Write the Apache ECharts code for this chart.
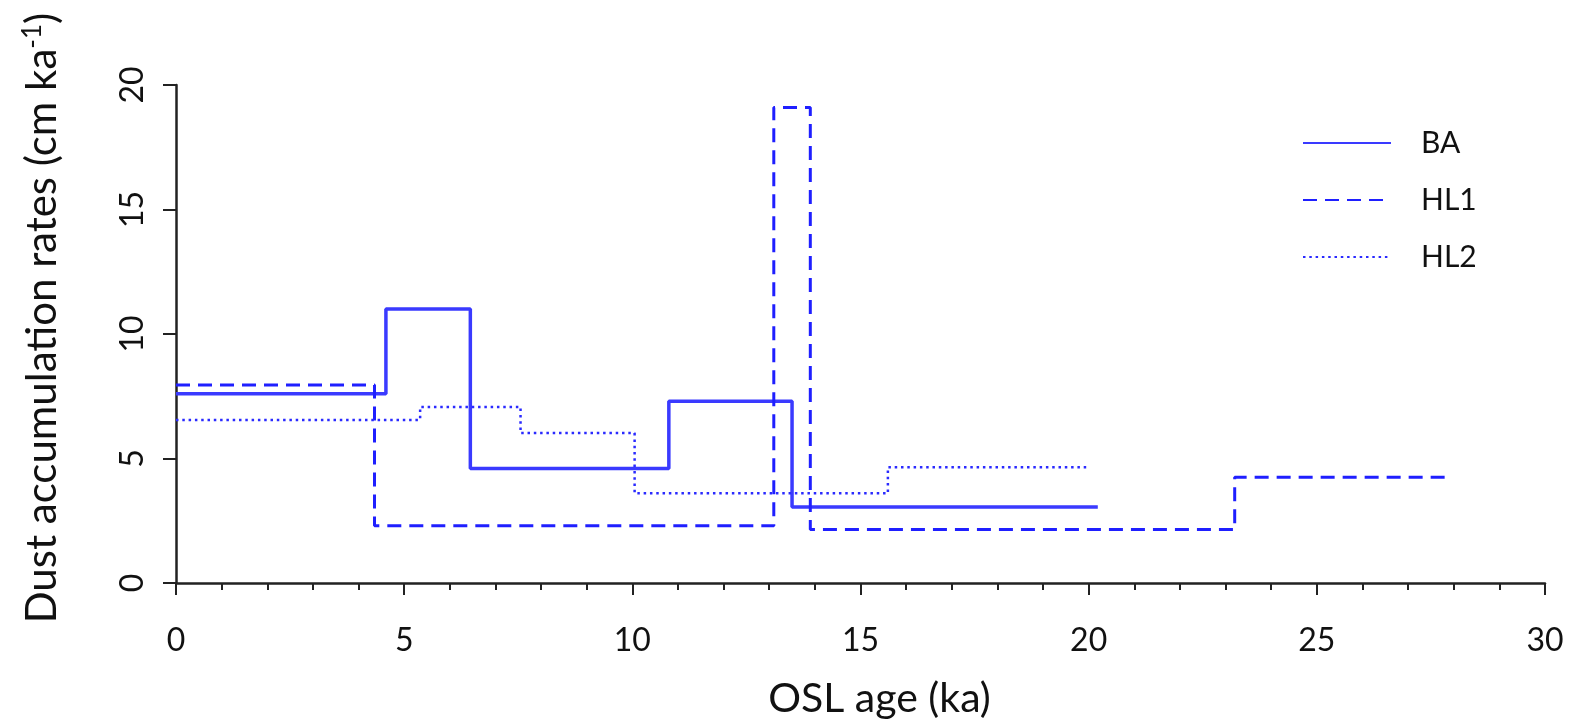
<!DOCTYPE html>
<html>
<head>
<meta charset="utf-8">
<script src="https://cdn.jsdelivr.net/npm/echarts@6/dist/echarts.min.js"></script>
<style>
html,body{margin:0;padding:0;background:#fff;}
#chart{width:1573px;height:719px;}
</style>
</head>
<body>
<div id="chart"></div>
<script>
// Step boundaries (OSL age, ka) and accumulation rates (cm/ka)
const baAges  = [0, 4.6, 6.45, 10.8, 13.5, 20.2];
const baRates = [7.6, 11.0, 4.6, 7.3, 3.05, 3.05];

const hl1Ages  = [0, 4.35, 13.1, 13.9, 23.2, 27.9];
const hl1Rates = [7.95, 2.3, 19.1, 2.15, 4.25, 4.25];

const hl2Ages  = [0, 5.35, 7.55, 10.05, 15.6, 20.0];
const hl2Rates = [6.55, 7.07, 6.02, 3.6, 4.65, 4.65];

const xTicks = [0, 5, 10, 15, 20, 25, 30];
const yTicks = [0, 5, 10, 15, 20];

const FONT = 'Lato';
const pair = (xs, ys) => xs.map((x, i) => [x, ys[i]]);

const chart = echarts.init(document.getElementById('chart'));
chart.setOption({
  animation: false,
  backgroundColor: '#fff',
  textStyle: { fontFamily: FONT },
  grid: { left: 176, right: 28, top: 85, bottom: 136, containLabel: false, outerBoundsMode: 'none' },
  legend: {
    orient: 'vertical',
    left: 1302,
    top: 128,
    padding: 0,
    itemWidth: 88,
    itemHeight: 20,
    itemGap: 27,
    itemStyle: { opacity: 0 },
    textStyle: { fontFamily: FONT, fontSize: 30, color: '#111', padding: [0, 0, 0, 25] },
    data: ['BA', 'HL1', 'HL2']
  },
  xAxis: {
    type: 'value',
    min: xTicks[0],
    max: xTicks[xTicks.length - 1],
    interval: 5,
    name: 'OSL age (ka)',
    nameLocation: 'middle',
    nameGap: 95,
    nameTextStyle: { fontFamily: FONT, fontSize: 41, color: '#111', padding: [0, 0, 0, 38] },
    axisLine: { lineStyle: { color: '#222', width: 2.5 } },
    axisTick: { show: true, inside: false, length: 12, lineStyle: { color: '#222', width: 2 } },
    minorTick: { show: true, splitNumber: 5, length: 7, lineStyle: { color: '#222', width: 2 } },
    splitLine: { show: false },
    axisLabel: { margin: 42, fontSize: 32, color: '#111', fontFamily: FONT }
  },
  yAxis: {
    type: 'value',
    min: yTicks[0],
    max: yTicks[yTicks.length - 1],
    interval: 5,
    name: '{a|Dust accumulation rates (cm ka}{s|-1}{a|)}',
    nameLocation: 'middle',
    nameRotate: 90,
    nameGap: 112,
    nameTextStyle: {
      padding: [0, 0, 0, 32],
      rich: {
        a: { fontFamily: FONT, fontSize: 42, color: '#111' },
        s: { fontFamily: FONT, fontSize: 26, color: '#111', verticalAlign: 'top', padding: [0, 0, 18, 0] }
      }
    },
    axisLine: { show: true, lineStyle: { color: '#222', width: 2.5 } },
    axisTick: { show: true, inside: false, length: 13, lineStyle: { color: '#222', width: 2 } },
    splitLine: { show: false },
    axisLabel: { rotate: 90, margin: 27, fontSize: 32, color: '#111', fontFamily: FONT }
  },
  series: [
    {
      name: 'BA', type: 'line', step: 'end', symbol: 'none',
      data: pair(baAges, baRates),
      lineStyle: { color: '#3a3aff', width: 3.5, type: 'solid' },
      itemStyle: { color: '#3a3aff' }
    },
    {
      name: 'HL1', type: 'line', step: 'end', symbol: 'none',
      data: pair(hl1Ages, hl1Rates),
      lineStyle: { color: '#1f1fff', width: 3, type: [14, 8] },
      itemStyle: { color: '#1f1fff' }
    },
    {
      name: 'HL2', type: 'line', step: 'end', symbol: 'none',
      data: pair(hl2Ages, hl2Rates),
      lineStyle: { color: '#2a2aff', width: 2.5, type: [2.5, 3.8] },
      itemStyle: { color: '#2a2aff' }
    }
  ]
});
</script>
</body>
</html>
